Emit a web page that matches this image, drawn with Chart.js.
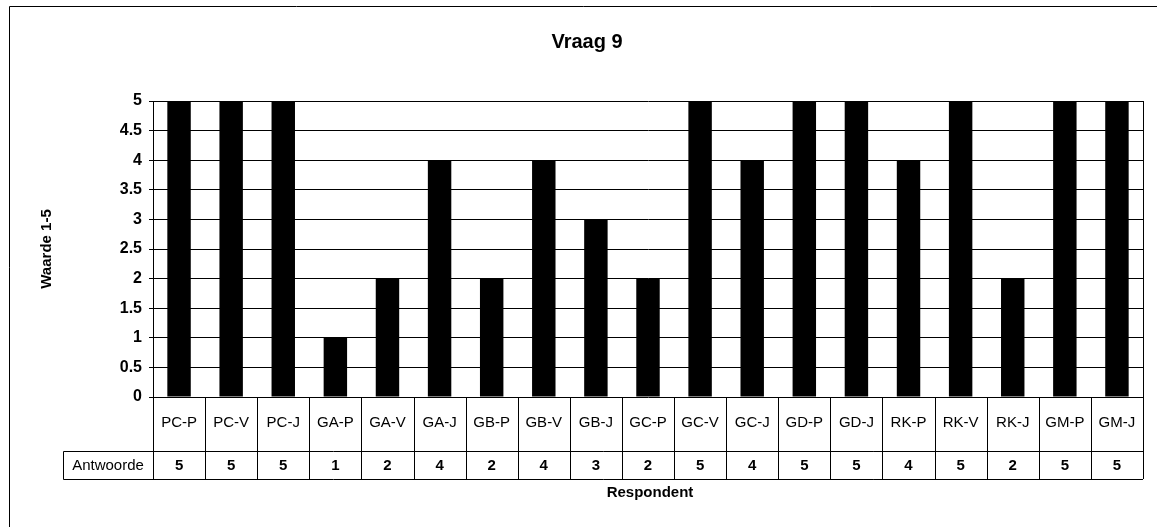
<!DOCTYPE html>
<html>
<head>
<meta charset="utf-8">
<script src="https://cdn.jsdelivr.net/npm/chart.js@4/dist/chart.umd.min.js"></script>
<style>
    html, body { margin: 0; padding: 0; background: #fff; }
    #wrap { position: relative; width: 1157px; height: 527px; }
</style>
</head>
<body>
<div id="wrap"><canvas id="chart" width="1157" height="527"></canvas></div>
<script>
const categories = ['PC-P', 'PC-V', 'PC-J', 'GA-P', 'GA-V', 'GA-J', 'GB-P', 'GB-V', 'GB-J', 'GC-P',
    'GC-V', 'GC-J', 'GD-P', 'GD-J', 'RK-P', 'RK-V', 'RK-J', 'GM-P', 'GM-J'];
const antwoorde = [5, 5, 5, 1, 2, 4, 2, 4, 3, 2, 5, 4, 5, 5, 4, 5, 2, 5, 5];
const seriesName = 'Antwoorde';
const yTicks = [0, 0.5, 1, 1.5, 2, 2.5, 3, 3.5, 4, 4.5, 5];

const FONT = '"Liberation Sans", Arial, sans-serif';

// Excel-style frame, title, data table and x title
const tablePlugin = {
    id: 'dataTable',
    afterDraw(chart) {
        const ctx = chart.ctx;
        const area = chart.chartArea;
        const x = chart.scales.x;
        const rowTop = area.bottom;
        const rowMid = area.bottom + 54;
        const rowBot = area.bottom + 82;
        const step = (area.right - area.left) / categories.length;

        ctx.save();
        ctx.strokeStyle = '#000';
        ctx.lineWidth = 1;

        // outer chart frame
        ctx.beginPath();
        ctx.moveTo(9.5, 540);
        ctx.lineTo(9.5, 6.5);
        ctx.lineTo(1170, 6.5);
        ctx.stroke();

        // title
        ctx.fillStyle = '#000';
        ctx.font = 'bold 20px ' + FONT;
        ctx.textAlign = 'center';
        ctx.textBaseline = 'middle';
        ctx.fillText('Vraag 9', 587, 42);

        // table grid
        ctx.beginPath();
        for (let i = 0; i <= categories.length; i++) {
            const px = Math.round(area.left + i * step) + 0.5;
            ctx.moveTo(px, rowTop);
            ctx.lineTo(px, rowBot);
        }
        ctx.moveTo(63.5, rowMid + 0.5);
        ctx.lineTo(area.right, rowMid + 0.5);
        ctx.moveTo(63.5, rowBot + 0.5);
        ctx.lineTo(area.right, rowBot + 0.5);
        ctx.moveTo(63.5, rowMid + 0.5);
        ctx.lineTo(63.5, rowBot + 0.5);
        ctx.stroke();

        // category labels and values
        categories.forEach((c, i) => {
            const cx = x.getPixelForValue(i);
            ctx.font = '15px ' + FONT;
            ctx.fillText(c, cx, rowTop + 26);
            ctx.font = 'bold 15px ' + FONT;
            ctx.fillText(String(antwoorde[i]), cx, rowMid + 15);
        });

        ctx.font = '15px ' + FONT;
        ctx.fillText(seriesName, 108, rowMid + 15);

        // x title
        ctx.font = 'bold 15px ' + FONT;
        ctx.fillText('Respondent', 650, 493);
        ctx.restore();
    }
};

new Chart(document.getElementById('chart'), {
    type: 'bar',
    data: {
        labels: categories,
        datasets: [{
            label: seriesName,
            data: antwoorde,
            backgroundColor: '#000',
            borderWidth: 0,
            categoryPercentage: 1,
            barPercentage: 0.45
        }]
    },
    options: {
        responsive: false,
        animation: false,
        layout: { padding: { left: 34, right: 14, top: 101, bottom: 130 } },
        plugins: {
            legend: { display: false },
            tooltip: { enabled: false }
        },
        scales: {
            x: {
                display: false,
                grid: { display: false }
            },
            y: {
                min: 0,
                max: 5,
                afterFit(scale) { scale.width = 119; },
                afterBuildTicks(scale) { scale.ticks = yTicks.map(v => ({ value: v })); },
                ticks: {
                    color: '#000',
                    font: { family: FONT, size: 16, weight: 'bold' },
                    padding: 7,
                    callback: v => String(v)
                },
                grid: {
                    color: '#000',
                    lineWidth: 1,
                    tickLength: 4,
                    drawTicks: true
                },
                border: { color: '#000', width: 1 },
                title: {
                    display: true,
                    text: 'Waarde 1-5',
                    color: '#000',
                    font: { family: FONT, size: 15, weight: 'bold' }
                }
            }
        }
    },
    plugins: [tablePlugin, {
        id: 'plotBorder',
        afterDatasetsDraw(chart) {
            const a = chart.chartArea;
            const ctx = chart.ctx;
            ctx.save();
            ctx.strokeStyle = '#000';
            ctx.lineWidth = 1;
            ctx.beginPath();
            ctx.moveTo(Math.round(a.right) + 0.5, a.top);
            ctx.lineTo(Math.round(a.right) + 0.5, a.bottom);
            ctx.stroke();
            ctx.restore();
        }
    }]
});
</script>
</body>
</html>
